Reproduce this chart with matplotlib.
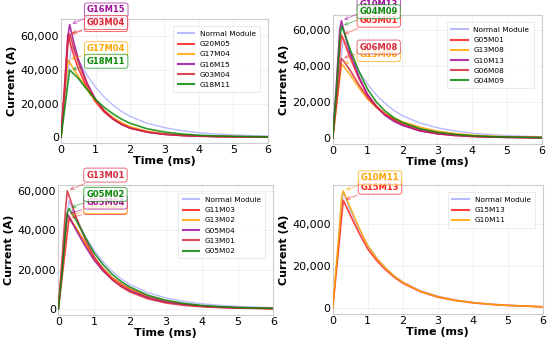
import matplotlib
matplotlib.use("Agg")
import matplotlib.pyplot as plt

# ---------------- data ----------------
time_ms = [0, 0.1, 0.2, 0.25, 0.3, 0.4, 0.5, 0.75, 1.0, 1.25, 1.5, 1.75, 2.0, 2.5, 3.0, 3.5, 4.0, 4.5, 5.0, 6.0]

normal_module = [0, 18300, 36700, 45800, 55000, 50400, 46100, 37000, 29800, 23900, 19200, 15400, 12400, 8300, 5700, 3900, 2700, 1900, 1350, 650]

# panel 1
p1_labels = ["G20M05", "G17M04", "G16M15", "G03M04", "G18M11"]
G20M05 = [0, 30500, 61000, 57100, 53400, 46700, 40900, 29300, 21000, 15000, 10800, 7700, 5500, 3300, 1900, 1200, 750, 480, 320, 150]
G17M04 = [0, 23000, 46000, 44500, 42800, 39500, 36300, 28500, 21500, 16000, 11900, 8700, 6300, 3500, 2000, 1200, 750, 480, 320, 150]
G16M15 = [0, 27000, 60000, 67000, 62500, 54000, 46500, 32500, 22500, 15700, 11000, 7700, 5400, 3000, 1700, 1000, 620, 400, 260, 120]
G03M04 = [0, 27000, 56000, 61500, 58000, 51000, 44500, 31500, 22000, 15500, 11000, 7800, 5500, 3000, 1700, 1050, 650, 420, 280, 130]
G18M11 = [0, 16000, 32000, 40000, 39000, 37000, 35000, 28500, 22500, 17800, 14000, 10800, 8300, 5000, 3100, 1900, 1200, 750, 500, 220]

# panel 2
p2_labels = ["G05M01", "G13M08", "G10M13", "G06M08", "G04M09"]
G05M01 = [0, 23000, 46000, 57000, 55000, 49500, 44500, 33000, 24000, 17800, 13200, 9800, 7300, 4000, 2300, 1400, 850, 550, 360, 170]
G13M08 = [0, 16400, 32800, 41000, 40000, 37500, 35000, 28000, 21500, 17000, 13500, 11000, 9000, 6000, 3800, 2500, 1600, 1050, 700, 300]
G10M13 = [0, 28000, 60000, 65000, 61000, 53500, 47000, 34000, 24000, 17300, 12500, 9300, 7000, 4000, 2400, 1450, 900, 570, 370, 160]
G06M08 = [0, 17600, 35200, 44000, 43000, 40200, 37500, 29500, 22500, 17300, 13300, 10300, 8000, 4800, 2900, 1800, 1100, 700, 450, 200]
G04M09 = [0, 25000, 54000, 62000, 60000, 54500, 49000, 37000, 27000, 20000, 15000, 11300, 8600, 5200, 3200, 2000, 1250, 800, 520, 230]

# panel 3
p3_labels = ["G11M03", "G13M02", "G05M04", "G13M01", "G05M02"]
G11M03 = [0, 15300, 30700, 38300, 46000, 43500, 41000, 33500, 26000, 20500, 16000, 12800, 10200, 6400, 4000, 2500, 1600, 1050, 700, 300]
G13M02 = [0, 19000, 38000, 47500, 47000, 44000, 41000, 33000, 25500, 20000, 15700, 12300, 9700, 6000, 3800, 2400, 1500, 1000, 650, 280]
G05M04 = [0, 19500, 39000, 48000, 47000, 43500, 40000, 32000, 24800, 19300, 15000, 11800, 9300, 5800, 3600, 2300, 1450, 950, 620, 270]
G13M01 = [0, 24000, 50000, 60000, 57500, 52000, 46500, 35500, 26500, 20000, 15000, 11400, 8700, 5200, 3100, 1900, 1200, 760, 490, 210]
G05M02 = [0, 17000, 40000, 49000, 51000, 48000, 45000, 36500, 28500, 22500, 17700, 14000, 11200, 7000, 4500, 2900, 1850, 1200, 800, 350]

# panel 4
p4_labels = ["G15M13", "G10M11"]
G15M13 = [0, 17000, 34000, 42500, 51000, 47500, 44000, 35500, 28000, 22600, 18300, 14700, 11800, 7800, 5200, 3600, 2500, 1750, 1250, 600]
G10M11 = [0, 20000, 40000, 52000, 55500, 51500, 47500, 38000, 29500, 23600, 19000, 15200, 12200, 8000, 5400, 3700, 2600, 1800, 1300, 620]

# annotation label heights (A)
p1_text_y = {"G20M05": 67000, "G16M15": 75700, "G03M04": 68300, "G17M04": 52600, "G18M11": 45200}
p2_text_y = {"G10M13": 73800, "G04M09": 70000, "G05M01": 65300, "G06M08": 50400, "G13M08": 46200}
p3_text_y = {"G13M01": 68000, "G05M02": 58200, "G05M04": 54300, "G13M02": 52000, "G11M03": 51500}
p4_text_y = {"G10M11": 61600, "G15M13": 57200}

# ---------------- style ----------------
colors = ["#ff2020", "#ffa500", "#a0109a", "#d8283c", "#0a8a0a"]
normal_color = "#b8bcff"

panels = [
    ([0.111, 0.586, 0.376, 0.359], p1_labels, [G20M05, G17M04, G16M15, G03M04, G18M11], p1_text_y, 0.75),
    ([0.605, 0.583, 0.380, 0.374], p2_labels, [G05M01, G13M08, G10M13, G06M08, G04M09], p2_text_y, 0.77),
    ([0.106, 0.087, 0.391, 0.377], p3_labels, [G11M03, G13M02, G05M04, G13M01, G05M02], p3_text_y, 0.78),
    ([0.605, 0.090, 0.382, 0.374], p4_labels, [G15M13, G10M11], p4_text_y, 0.80),
]

fig = plt.figure(figsize=(5.5, 3.45), dpi=100)

for rect, labels, series, text_y, text_x in panels:
    ax = fig.add_axes(rect)
    ax.plot(time_ms, normal_module, color=normal_color, lw=1.0, label="Normal Module", zorder=2)
    for lab, vals, col in zip(labels, series, colors):
        ax.plot(time_ms, vals, color=col, lw=1.2, alpha=0.85, label=lab, zorder=3)
    ax.set_xlim(0, 6)
    ax.set_xticks(range(0, 7))
    ax.yaxis.set_major_formatter(matplotlib.ticker.FuncFormatter(lambda v, p: f"{int(v):,}"))
    ax.grid(True, color="#ececec", lw=0.5)
    ax.set_axisbelow(True)
    for s in ax.spines.values():
        s.set_color("#cccccc")
        s.set_linewidth(0.8)
    ax.tick_params(length=0, pad=1.5, labelsize=8)
    ax.set_xlabel("Time (ms)", fontsize=8, fontweight="bold", labelpad=1)
    ax.set_ylabel("Current (A)", fontsize=8, fontweight="bold", labelpad=2.5)
    leg = ax.legend(loc="upper right", fontsize=5.3, frameon=True, fancybox=False,
                    handlelength=2.2, borderpad=0.6, labelspacing=0.55, bbox_to_anchor=(0.98, 0.97))
    leg.get_frame().set_edgecolor("#e0e0e0")
    leg.get_frame().set_linewidth(0.6)
    for ln in leg.get_lines():
        ln.set_linewidth(1.5)
    # annotations at peaks (later series drawn on top)
    for i, (lab, vals, col) in enumerate(zip(labels, series, colors)):
        k = max(range(len(vals)), key=lambda j: vals[j])
        ax.annotate(lab, xy=(time_ms[k], vals[k]), xytext=(text_x, text_y[lab]),
                    fontsize=6, fontweight="bold", color=col, ha="left", va="center",
                    annotation_clip=False, zorder=6 + i,
                    bbox=dict(boxstyle="round,pad=0.3", fc="white", ec=col, lw=0.6, alpha=0.8),
                    arrowprops=dict(arrowstyle="->", color=col, lw=0.6, alpha=0.6))

fig.savefig("out.png", dpi=100)
